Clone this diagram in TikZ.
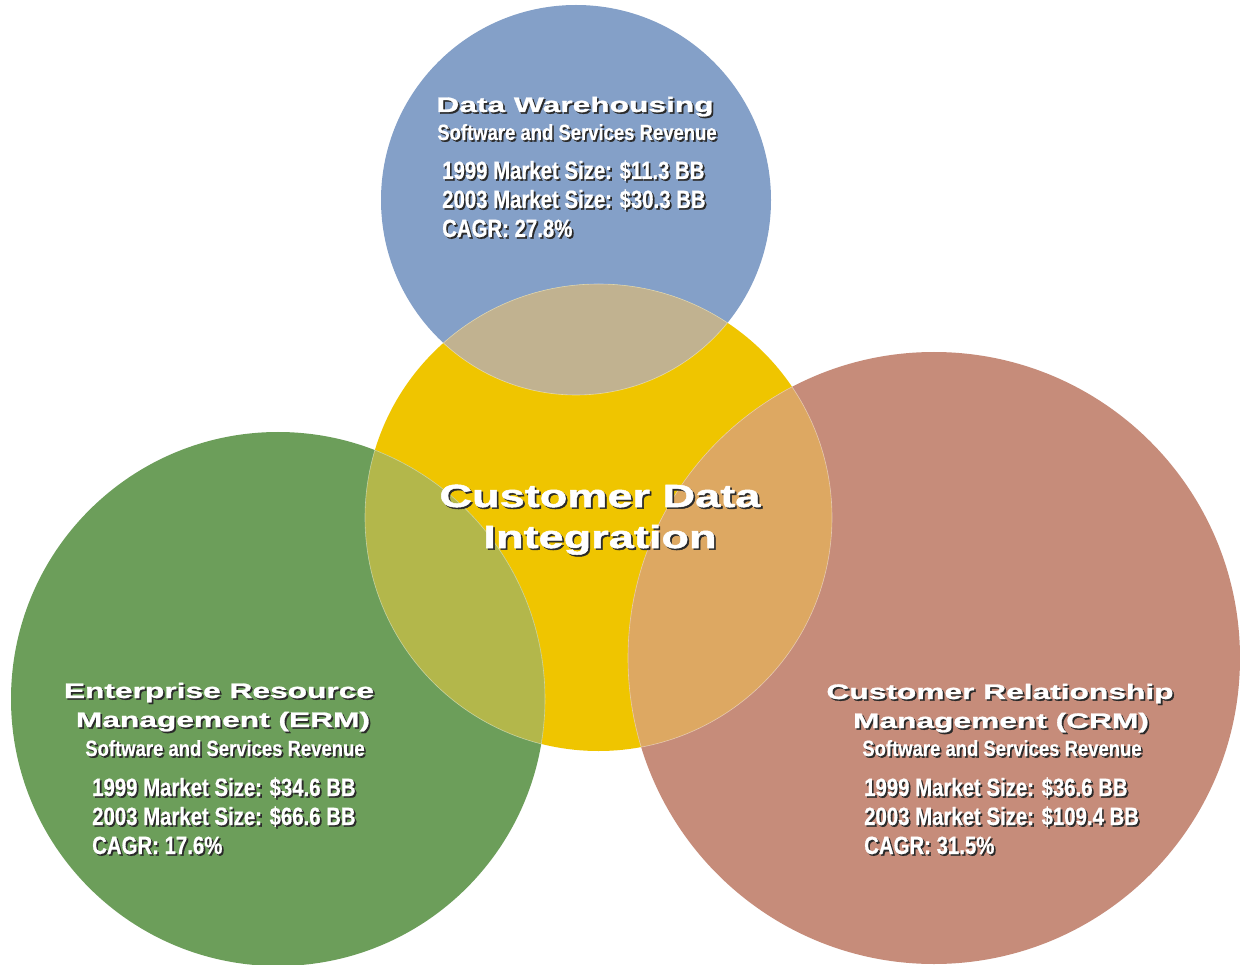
\documentclass[tikz,border=0pt]{standalone}
\usepackage{fontspec}
\setmainfont{Liberation Sans}
\newfontfamily\widefont[FakeStretch=1.51,FakeBold=1.3]{Liberation Sans Bold}
\newfontfamily\centrefont[FakeStretch=1.41,FakeBold=1.6]{Liberation Sans Bold}
\newfontfamily\condfont[FakeStretch=0.815,FakeBold=0.6]{Liberation Sans Bold}
\newfontfamily\subfont[FakeStretch=0.84,FakeBold=0.5]{Liberation Sans Bold}

\definecolor{dwblue}{HTML}{84A0C8}
\definecolor{cdiyellow}{HTML}{EFC500}
\definecolor{ermgreen}{HTML}{6C9E5A}
\definecolor{crmsalmon}{HTML}{C68C7A}
\definecolor{dwcdi}{HTML}{C1B290}
\definecolor{ermcdi}{HTML}{B3B74B}
\definecolor{crmcdi}{HTML}{DDA862}
\definecolor{txtshadow}{HTML}{2A2A2A}

% white label with a dark drop shadow
\newcommand\shadowed[4]{%
  \node[#3, text=txtshadow] at ([shift={(1.7pt,-1.7pt)}]#2) {#4};
  \node[#3, text=white] (#1) at (#2) {#4};
}

\tikzset{
  hd/.style={font=\widefont\fontsize{21}{24}\selectfont, inner sep=0pt, anchor=base},
  ctr/.style={font=\centrefont\fontsize{32}{36}\selectfont, inner sep=0pt, anchor=base},
  sub/.style={font=\subfont\fontsize{22}{25}\selectfont, inner sep=0pt, anchor=base},
  dat/.style={font=\condfont\fontsize{25}{28}\selectfont, inner sep=0pt, anchor=base west},
  lensedge/.style={draw=white, draw opacity=0.45, line width=0.6pt}
}

\begin{document}
\begin{tikzpicture}[x=1pt, y=-1pt]
  \useasboundingbox (0,0) rectangle (1240,965);
  \fill[white] (0,0) rectangle (1240,965);
  \clip (0,0) rectangle (1240,965);

  % circle centres
  \coordinate (cdw)  at (576,200);
  \coordinate (ccdi) at (598.5,517.5);
  \coordinate (cerm) at (278,699);
  \coordinate (ccrm) at (934,658);

  % the four sets
  \fill[dwblue]    (cdw)  circle (195pt);
  \fill[cdiyellow] (ccdi) circle (233.5pt);
  \fill[ermgreen]  (cerm) circle (267pt);
  \fill[crmsalmon] (ccrm) circle (306pt);

  % overlaps with the central set
  \begin{scope}
    \clip (ccdi) circle (233.5pt);
    \fill[dwcdi]  (cdw)  circle (195pt);
    \fill[ermcdi] (cerm) circle (267pt);
    \fill[crmcdi] (ccrm) circle (306pt);
    \draw[lensedge] (cdw) circle (195pt);
    \draw[lensedge] (cerm) circle (267pt);
    \draw[lensedge] (ccrm) circle (306pt);
  \end{scope}
  \begin{scope}
    \clip (cdw) circle (195pt);
    \draw[lensedge] (ccdi) circle (233.5pt);
  \end{scope}
  \begin{scope}
    \clip (cerm) circle (267pt);
    \draw[lensedge] (ccdi) circle (233.5pt);
  \end{scope}
  \begin{scope}
    \clip (ccrm) circle (306pt);
    \draw[lensedge] (ccdi) circle (233.5pt);
  \end{scope}

  % Data Warehousing
  \shadowed{dwtitle}{575,112}{hd}{Data Warehousing}
  \shadowed{dwsub}{577,140}{sub}{Software and Services Revenue}
  \shadowed{dwa}{442,179}{dat}{1999 Market Size: \$11.3 BB}
  \shadowed{dwb}{442,208}{dat}{2003 Market Size: \$30.3 BB}
  \shadowed{dwc}{442,237}{dat}{CAGR: 27.8\%}

  % Customer Data Integration
  \shadowed{cdia}{600,507}{ctr}{Customer Data}
  \shadowed{cdib}{600,548}{ctr}{Integration}

  % ERM
  \shadowed{ermtitle}{219,698}{hd}{Enterprise Resource}
  \shadowed{ermtitleb}{223,727}{hd}{Management (ERM)}
  \shadowed{ermsub}{225,756}{sub}{Software and Services Revenue}
  \shadowed{erma}{92,796}{dat}{1999 Market Size: \$34.6 BB}
  \shadowed{ermb}{92,825}{dat}{2003 Market Size: \$66.6 BB}
  \shadowed{ermc}{92,854}{dat}{CAGR: 17.6\%}

  % CRM
  \shadowed{crmtitle}{1000,699}{hd}{Customer Relationship}
  \shadowed{crmtitleb}{1001,728}{hd}{Management (CRM)}
  \shadowed{crmsub}{1002,756}{sub}{Software and Services Revenue}
  \shadowed{crma}{864,796}{dat}{1999 Market Size: \$36.6 BB}
  \shadowed{crmb}{864,825}{dat}{2003 Market Size: \$109.4 BB}
  \shadowed{crmc}{864,854}{dat}{CAGR: 31.5\%}
\end{tikzpicture}
\end{document}
